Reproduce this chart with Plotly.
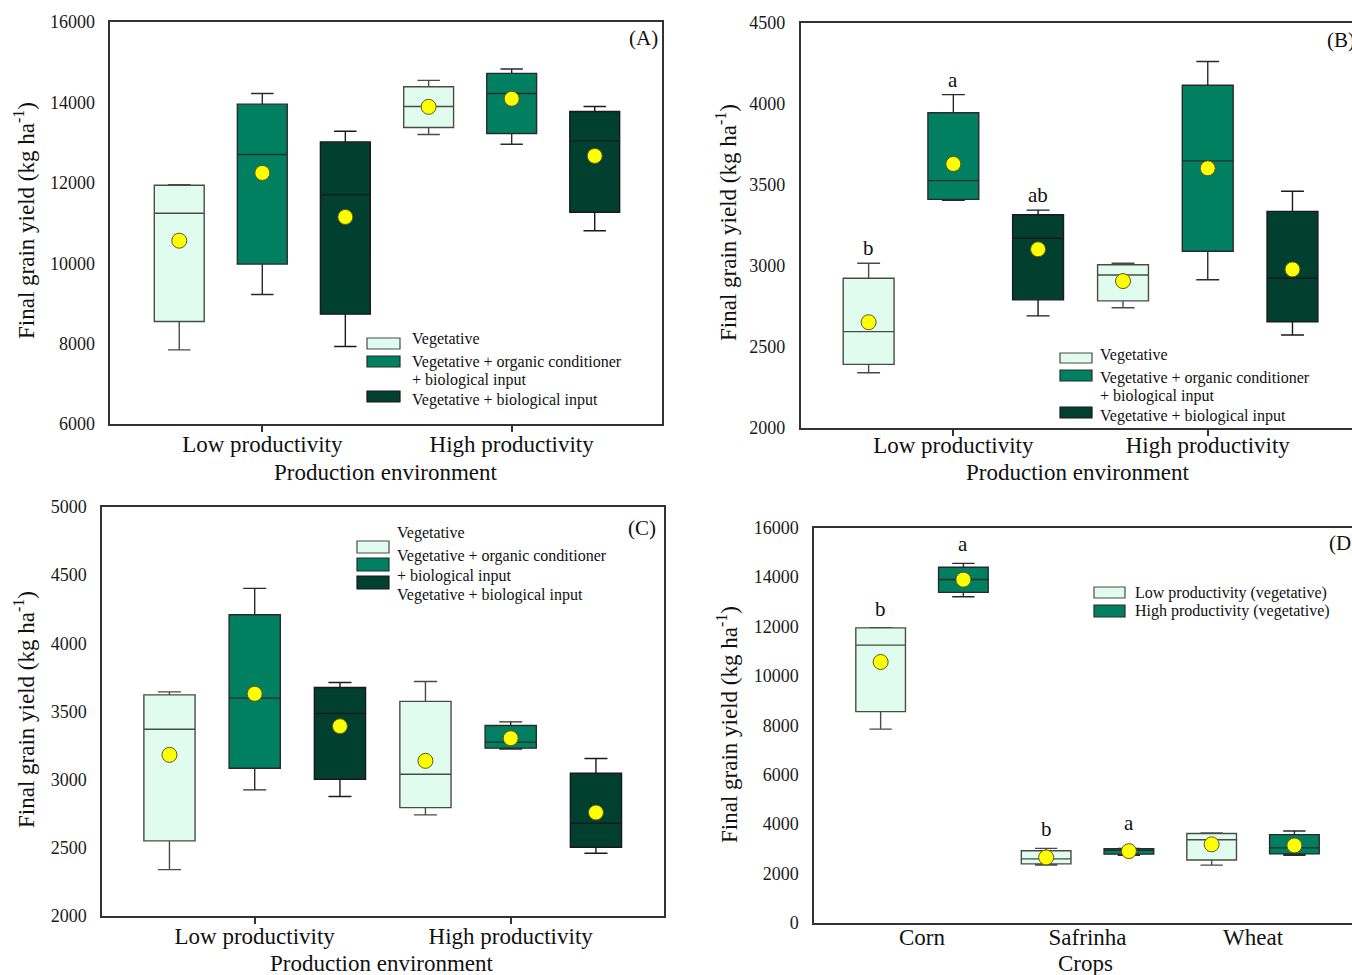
import plotly.graph_objects as go

W, H = 1352, 975
FONT = "Liberation Serif"

# ---- data -------------------------------------------------------------
environments = ["Low productivity", "High productivity"]
treatments = [
    "Vegetative",
    "Vegetative + organic conditioner",
    "Vegetative + biological input",
]
crops = ["Corn", "Safrinha", "Wheat"]

# rows: treatments (vegetative, +organic+bio, +bio); cols: [low, high]
# (A) corn yield
A_lower = [[7844, 13201], [9223, 12960], [7927, 10809]]
A_q1 = [[8550, 13375], [9978, 13226], [8733, 11266]]
A_median = [[11241, 13899], [12703, 14223], [11706, 13043]]
A_q3 = [[11939, 14389], [13957, 14721], [13018, 13774]]
A_upper = [[11950, 14547], [14223, 14829], [13284, 13899]]
A_mean = [[10560, 13890], [12246, 14090], [11150, 12669]]

# (B) safrinha yield
B_lower = [[2341, 2742], [3405, 2915], [2692, 2574]]
B_q1 = [[2393, 2785], [3411, 3091], [2791, 2655]]
B_median = [[2595, 2944], [3527, 3649], [3171, 2924]]
B_q3 = [[2924, 3008], [3946, 4116], [3316, 3337]]
B_upper = [[3017, 3017], [4058, 4262], [3345, 3461]]
B_mean = [[2653, 2907], [3630, 3603], [3103, 2979]]
B_letters = [["b", ""], ["a", ""], ["ab", ""]]

# (C) wheat yield
C_lower = [[2340, 2742], [2925, 3224], [2876, 2460]]
C_q1 = [[2551, 2795], [3084, 3231], [3003, 2504]]
C_median = [[3370, 3040], [3598, 3275], [3485, 2680]]
C_q3 = [[3622, 3574], [4210, 3397], [3676, 3047]]
C_upper = [[3644, 3720], [4403, 3424], [3713, 3155]]
C_mean = [[3182, 3138], [3630, 3304], [3392, 2759]]

# (D) vegetative treatment only, per crop: letters [low, high]
D_letters = [["b", "a"], ["b", "a"], ["", ""]]

# ---- styling ----------------------------------------------------------
fills = ["#E0FCEF", "#008060", "#013F2F"]
edges = ["#4a4a4a", "#2a2a2a", "#1a1a1a"]
AX = "#333333"


def px(x):
    return x / W


def py(y):
    return 1 - y / H


fig = go.Figure()


def add_group(xa, ya, centers, lower, q1, med, q3, upper, mean, fill, edge, width):
    fig.add_trace(go.Box(
        x=centers, lowerfence=lower, q1=q1, median=med, q3=q3, upperfence=upper,
        width=width, whiskerwidth=0.45, boxpoints=False,
        fillcolor=fill, line=dict(color=edge, width=1.4),
        xaxis=xa, yaxis=ya, showlegend=False, hoverinfo="skip",
    ))
    fig.add_trace(go.Scatter(
        x=centers, y=mean, mode="markers",
        marker=dict(size=15, color="#FFFF00", line=dict(color="#5a5a20", width=1)),
        xaxis=xa, yaxis=ya, showlegend=False, hoverinfo="skip",
    ))


offsets3 = [-0.333, 0.0, 0.333]
panels3 = [
    ("x", "y", A_lower, A_q1, A_median, A_q3, A_upper, A_mean),
    ("x2", "y2", B_lower, B_q1, B_median, B_q3, B_upper, B_mean),
    ("x3", "y3", C_lower, C_q1, C_median, C_q3, C_upper, C_mean),
]
for xa, ya, lo, q1, md, q3, up, mn in panels3:
    for t in range(3):
        centers = [i + 1 + offsets3[t] for i in range(len(environments))]
        add_group(xa, ya, centers, lo[t], q1[t], md[t], q3[t], up[t], mn[t],
                  fills[t], edges[t], 0.2)

# letters over panel B
for t in range(3):
    for i in range(2):
        if B_letters[t][i]:
            fig.add_annotation(x=i + 1 + offsets3[t], y=B_upper[t][i], xref="x2", yref="y2",
                               text=B_letters[t][i], showarrow=False, xanchor="center",
                               yanchor="bottom", yshift=1,
                               font=dict(family=FONT, size=21, color="#111"))

# (D): vegetative boxes of each crop, low vs high productivity
stats = [
    (A_lower, A_q1, A_median, A_q3, A_upper, A_mean),
    (B_lower, B_q1, B_median, B_q3, B_upper, B_mean),
    (C_lower, C_q1, C_median, C_q3, C_upper, C_mean),
]
offsets2 = [-0.25, 0.25]
for e in range(2):
    centers = [c + 1 + offsets2[e] for c in range(len(crops))]
    cols = [[s[k][0][e] for s in stats] for k in range(6)]
    add_group("x4", "y4", centers, *cols, fills[e], edges[e], 0.3)
    for c in range(len(crops)):
        if D_letters[c][e]:
            top = max(stats[c][4][0][e], stats[c][5][0][e])
            fig.add_annotation(x=centers[c], y=top, xref="x4", yref="y4",
                               text=D_letters[c][e], showarrow=False, xanchor="center",
                               yanchor="bottom", yshift=5 + 6 * e * (c == 1),
                               font=dict(family=FONT, size=21, color="#111"))

# ---- axes -------------------------------------------------------------
tickfont = dict(family=FONT, size=18, color="#1a1a1a")
catfont = dict(family=FONT, size=23, color="#111")


def xaxis_cfg(dom, rng, vals, text, anchor, ticks=True, standoff=-7):
    return dict(domain=dom, range=rng, tickvals=vals, ticktext=text, anchor=anchor,
                showline=True, linecolor=AX, linewidth=1.5, mirror=True,
                ticks="outside" if ticks else "", ticklen=6, tickcolor=AX, tickwidth=1.5,
                tickfont=catfont, ticklabelstandoff=standoff,
                showgrid=False, zeroline=False, automargin=False)


def yaxis_cfg(dom, rng, dtick, anchor, mirror=True):
    return dict(domain=dom, range=rng, dtick=dtick, anchor=anchor, tickformat="d",
                showline=True, linecolor=AX, linewidth=1.5, mirror=mirror,
                ticks="", tickfont=tickfont, ticklabelstandoff=10,
                showgrid=False, zeroline=False, automargin=False)


fig.update_layout(
    width=W, height=H, margin=dict(l=0, r=0, t=0, b=0, autoexpand=False),
    paper_bgcolor="white", plot_bgcolor="white",
    font=dict(family=FONT, color="#111"),
    xaxis=xaxis_cfg([px(110.3), px(662.3)], [0.3905, 2.604], [1, 2], environments, "y"),
    yaxis=yaxis_cfg([py(424), py(22)], [6000, 16000], 2000, "x"),
    xaxis2=xaxis_cfg([px(800.7), 1.0], [0.400, 2.567], [1, 2], environments, "y2", standoff=-10),
    yaxis2=yaxis_cfg([py(428), py(23)], [2000, 4500], 500, "x2", mirror=False),
    xaxis3=xaxis_cfg([px(102), px(664.3)], [0.4035, 2.600], [1, 2], environments, "y3"),
    yaxis3=yaxis_cfg([py(916), py(507)], [2000, 5000], 500, "x3"),
    xaxis4=xaxis_cfg([px(814), 1.0], [0.3474, 3.598], [1, 2, 3], crops, "y4", ticks=False),
    yaxis4=yaxis_cfg([py(923), py(527.5)], [0, 16000], 2000, "x4", mirror=False),
)


def text_at(x, y, txt, size, angle=0, xanchor="center"):
    fig.add_annotation(x=px(x), y=py(y), xref="paper", yref="paper", text=txt,
                       textangle=angle, showarrow=False, xanchor=xanchor, yanchor="middle",
                       font=dict(family=FONT, size=size, color="#111"))


ytitle = "Final grain yield (kg ha<sup>-1</sup>)"
for x, y in [(24, 221), (726, 223), (24, 710), (727, 725)]:
    text_at(x, y, ytitle, 23, angle=-90)

for x, y, txt in [(386, 473, "Production environment"), (1078, 473, "Production environment"),
                  (382, 963, "Production environment"), (1085, 963, "Crops")]:
    text_at(x, y, txt, 23)

# panel tags
for x, y, txt, anc in [(660, 38, "(A)", "right"), (1325, 40, "(B)", "left"),
                       (658, 528, "(C)", "right"), (1327, 543, "(D)", "left")]:
    text_at(x, y, txt, 21, xanchor=anc)


# ---- legends ----------------------------------------------------------
def legend(sw_x0, sw_x1, sw_rows, txt_x, txt_rows, labels, colors, borders):
    for (y0, y1), col, bd in zip(sw_rows, colors, borders):
        fig.add_shape(type="rect", xref="paper", yref="paper",
                      x0=px(sw_x0), x1=px(sw_x1), y0=py(y1), y1=py(y0),
                      fillcolor=col, line=dict(color=bd, width=1.2))
    for y, lab in zip(txt_rows, labels):
        text_at(txt_x, y, lab, 16, xanchor="left")


leg3 = [treatments[0], treatments[1], "+ biological input", treatments[2]]
legend(367, 400, [(338, 349), (356, 367), (391, 402)], 410, [339, 362, 380, 400],
       leg3, fills, edges)
legend(1060, 1092, [(353, 363), (370, 381), (407, 418)], 1098, [355, 378, 396, 416],
       leg3, fills, edges)
legend(357, 389, [(541, 553), (558, 571), (576, 589)], 395, [533, 556, 576, 595],
       leg3, fills, edges)
legend(1094, 1125, [(587, 598), (605, 617)], 1133, [593, 611],
       ["Low productivity (vegetative)", "High productivity (vegetative)"], fills[:2], edges[:2])

fig.write_html("out.html")
